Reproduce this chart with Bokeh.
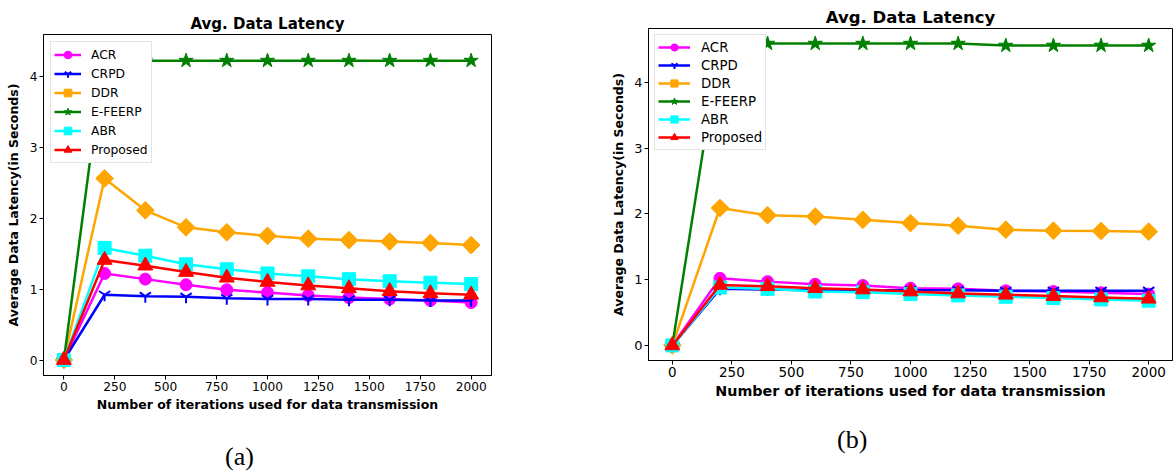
from bokeh.plotting import figure
from bokeh.models import Range1d, Legend, LegendItem, FixedTicker, Div
from bokeh.layouts import row, column
from bokeh.embed import file_html
from bokeh.resources import INLINE

# ---------------- data ----------------
iterations = [0, 200, 400, 600, 800, 1000, 1200, 1400, 1600, 1800, 2000]
series_names = ["ACR", "CRPD", "DDR", "E-FEERP", "ABR", "Proposed"]
x_ticks = [0, 250, 500, 750, 1000, 1250, 1500, 1750, 2000]
y_ticks = [0, 1, 2, 3, 4]
chart_title = "Avg. Data Latency"
x_label = "Number of iterations used for data transmission"
y_label = "Average Data Latency(in Seconds)"

# panel (a)
a_acr = [0, 1.22, 1.14, 1.06, 0.99, 0.95, 0.91, 0.88, 0.86, 0.84, 0.81]
a_crpd = [0, 0.92, 0.90, 0.89, 0.87, 0.86, 0.86, 0.85, 0.85, 0.84, 0.84]
a_ddr = [0, 2.56, 2.11, 1.87, 1.80, 1.75, 1.71, 1.69, 1.67, 1.65, 1.62]
a_efeerp = [0, 4.37, 4.22, 4.22, 4.22, 4.22, 4.22, 4.22, 4.22, 4.22, 4.22]
a_abr = [0, 1.58, 1.47, 1.35, 1.28, 1.22, 1.18, 1.14, 1.11, 1.09, 1.07]
a_proposed = [0, 1.41, 1.33, 1.24, 1.16, 1.10, 1.05, 1.01, 0.97, 0.94, 0.92]

# panel (b)
b_acr = [0, 1.02, 0.97, 0.93, 0.91, 0.87, 0.86, 0.83, 0.82, 0.80, 0.78]
b_crpd = [0, 0.86, 0.85, 0.84, 0.84, 0.84, 0.84, 0.83, 0.83, 0.83, 0.83]
b_ddr = [0, 2.09, 1.98, 1.96, 1.91, 1.86, 1.82, 1.76, 1.745, 1.74, 1.73]
b_efeerp = [0, 4.59, 4.59, 4.59, 4.59, 4.59, 4.59, 4.56, 4.56, 4.56, 4.56]
b_abr = [0, 0.88, 0.86, 0.82, 0.81, 0.78, 0.76, 0.74, 0.72, 0.70, 0.68]
b_proposed = [0, 0.92, 0.90, 0.87, 0.85, 0.82, 0.79, 0.77, 0.75, 0.73, 0.71]

# ---------------- styles ----------------
STYLES = {
    "ACR": dict(color="#ff00ff", marker="circle", size=12, angle=0.0),
    "CRPD": dict(color="#0000ff", marker="y", size=13, angle=0.0),
    "DDR": dict(color="#ffa500", marker="square", size=12.5, angle=0.785398),
    "E-FEERP": dict(color="#008000", marker="star", size=15, angle=0.0),
    "ABR": dict(color="#00ffff", marker="square", size=13, angle=0.0),
    "Proposed": dict(color="#ff0000", marker="triangle", size=15, angle=0.0),
}

FONT = "DejaVu Sans"


def make_panel(series, width, height, borders, fs, margin):
    ys_all = [v for vals in series for v in vals]
    y_lo, y_hi = min(ys_all), max(ys_all)
    y_pad = (y_hi - y_lo) * 0.05
    x_pad = (max(iterations) - min(iterations)) * 0.05
    p = figure(width=width, height=height, output_backend="svg", toolbar_location=None,
               x_range=Range1d(min(iterations) - x_pad, max(iterations) + x_pad),
               y_range=Range1d(y_lo - y_pad, y_hi + y_pad),
               min_border_left=borders[0], min_border_right=borders[1],
               min_border_top=borders[2], min_border_bottom=borders[3],
               margin=margin)
    p.background_fill_color = "white"
    p.border_fill_color = "white"
    p.outline_line_color = "black"
    p.outline_line_width = 1
    p.outline_line_alpha = 1
    p.grid.visible = False

    p.title.text = chart_title
    p.title.align = "center"
    p.title.text_font = FONT
    p.title.text_font_size = fs["title"]
    p.title.text_font_style = "bold"
    p.title.text_color = "black"
    p.title.standoff = 3

    for ax in (p.xaxis[0], p.yaxis[0]):
        ax.axis_line_color = "black"
        ax.major_tick_line_color = "black"
        ax.major_tick_out = 4
        ax.major_tick_in = 0
        ax.minor_tick_line_color = None
        ax.major_label_text_font = FONT
        ax.major_label_text_color = "black"
        ax.major_label_standoff = 2
        ax.axis_label_text_font = FONT
        ax.axis_label_text_font_style = "bold"
        ax.axis_label_text_color = "black"
    p.xaxis[0].ticker = FixedTicker(ticks=x_ticks)
    p.yaxis[0].ticker = FixedTicker(ticks=y_ticks)
    p.xaxis[0].major_label_text_font_size = fs["xtick"]
    p.yaxis[0].major_label_text_font_size = fs["ytick"]
    p.xaxis[0].axis_label = x_label
    p.yaxis[0].axis_label = y_label
    p.xaxis[0].axis_label_text_font_size = fs["xlabel"]
    p.yaxis[0].axis_label_text_font_size = fs["ylabel"]
    p.xaxis[0].axis_label_standoff = 3
    p.yaxis[0].axis_label_standoff = fs["ylabel_standoff"]

    items = []
    for name, vals in zip(series_names, series):
        st = STYLES[name]
        lr = p.line(iterations, vals, line_color=st["color"], line_width=2.5)
        if st["marker"] == "y":
            sr = p.scatter(iterations, vals, marker="y", size=st["size"],
                           line_color=st["color"], line_width=2)
        else:
            sr = p.scatter(iterations, vals, marker=st["marker"], size=st["size"],
                           angle=st["angle"], fill_color=st["color"],
                           line_color=st["color"], line_width=1)
        items.append(LegendItem(label=name, renderers=[lr, sr]))

    legend = Legend(items=items, location="top_left", level="overlay")
    legend.margin = fs["legend_margin"]
    legend.padding = 3
    legend.spacing = 0
    legend.glyph_width = fs["glyph_width"]
    legend.glyph_height = fs["row"]
    legend.label_height = fs["row"]
    legend.label_standoff = fs["label_standoff"]
    legend.label_text_font = FONT
    legend.label_text_font_size = fs["legend"]
    legend.label_text_color = "black"
    legend.border_line_color = "#cccccc"
    legend.border_line_width = 1
    legend.background_fill_color = "white"
    legend.background_fill_alpha = 1.0
    p.add_layout(legend)
    return p


def make_caption(text, width, height, left, top):
    html = ('<span style="display:inline-block; margin-left:%dpx; margin-top:%dpx; '
            'font-family:\'Liberation Serif\', serif; font-size:26px; line-height:30px; '
            'color:black;">%s</span>' % (left, top, text))
    return Div(text=html, width=width, height=height, margin=(0, 0, 0, 0))


fs_a = dict(title="15px", xtick="12.2px", ytick="12.2px", xlabel="12.5px", ylabel="12.5px",
            ylabel_standoff=6, legend="12.3px", legend_margin=7, glyph_width=27, row=19,
            label_standoff=10)
fs_b = dict(title="16.5px", xtick="13.5px", ytick="13px", xlabel="14.3px", ylabel="12.5px",
            ylabel_standoff=5, legend="13.3px", legend_margin=6, glyph_width=32, row=18,
            label_standoff=11)

# equal borders on both panels; vertical offset of panel (a) via its top margin
pa = make_panel([a_acr, a_crpd, a_ddr, a_efeerp, a_abr, a_proposed],
                590, 415, (43, 99, 28, 46), fs_a, (6, 0, 0, 0))
pb = make_panel([b_acr, b_crpd, b_ddr, b_efeerp, b_abr, b_proposed],
                584, 406, (58, 2, 28, 46), fs_b, (0, 0, 0, 0))

cap_a = make_caption("(a)", 590, 51, 225, 21)
cap_b = make_caption("(b)", 584, 66, 247, 19)

layout = row(column(pa, cap_a, spacing=0), column(pb, cap_b, spacing=0), spacing=0)
open("out.html", "w").write(file_html(layout, INLINE))
